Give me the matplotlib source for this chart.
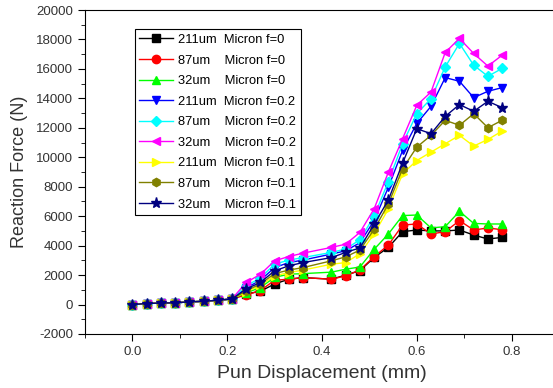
import numpy as np
import matplotlib.pyplot as plt
from matplotlib.ticker import MultipleLocator

# punch displacement (mm) - no sample at 0.39
disp = [0.00, 0.03, 0.06, 0.09, 0.12, 0.15, 0.18, 0.21, 0.24, 0.27, 0.30, 0.33, 0.36,
        0.42, 0.45, 0.48, 0.51, 0.54, 0.57, 0.60, 0.63, 0.66, 0.69, 0.72, 0.75, 0.78]

early = [0, 70, 100, 120, 180, 220, 290, 380]

f211_0 = early + [720, 900, 1400, 1720, 1830, 1720, 2000, 2300, 3200, 3880, 4950, 5060,
                  5000, 5000, 5060, 4720, 4450, 4560]
f87_0 = early + [650, 950, 1650, 1720, 1830, 1720, 1950, 2350, 3250, 4040, 5400, 5470,
                 4790, 4950, 5700, 5060, 5200, 5080]
f32_0 = early + [800, 1150, 1850, 2060, 2100, 2200, 2400, 2550, 3750, 4790, 6040, 6080,
                 5200, 5290, 6330, 5510, 5470, 5470]
f211_02 = early + [1130, 1650, 2510, 2850, 3020, 3430, 3650, 4200, 5700, 7960, 10460, 12300,
                   13460, 15410, 15160, 14050, 14480, 14730]
f87_02 = early + [1270, 1800, 2740, 3020, 3190, 3540, 3770, 4400, 6000, 8350, 10920, 12960,
                  13980, 16140, 17730, 16250, 15500, 16030]
f32_02 = early + [1500, 2050, 2970, 3260, 3490, 3880, 4100, 4900, 6500, 8990, 11260, 13530,
                  14430, 17120, 18070, 17050, 16190, 16930]
f211_01 = early + [860, 1300, 1950, 2170, 2340, 2740, 2850, 3450, 4800, 6490, 8880, 9780,
                   10350, 10920, 11490, 10760, 11210, 11780]
f87_01 = early + [930, 1400, 2100, 2340, 2510, 2970, 3240, 3700, 5100, 6830, 9220, 10690,
                  11490, 12510, 12170, 12960, 12010, 12510]
f32_01 = early + [1060, 1500, 2290, 2630, 2850, 3190, 3540, 3850, 5450, 7100, 9600, 11940,
                  11600, 12780, 13580, 13120, 13800, 13370]

series = [
    ('211um  Micron f=0', f211_0, 'black', 's'),
    ('87um    Micron f=0', f87_0, 'red', 'o'),
    ('32um    Micron f=0', f32_0, '#00ff00', '^'),
    ('211um  Micron f=0.2', f211_02, 'blue', 'v'),
    ('87um    Micron f=0.2', f87_02, 'cyan', 'D'),
    ('32um    Micron f=0.2', f32_02, 'magenta', '<'),
    ('211um  Micron f=0.1', f211_01, 'yellow', '>'),
    ('87um    Micron f=0.1', f87_01, '#808000', 'h'),
    ('32um    Micron f=0.1', f32_01, '#000080', '*'),
]

plt.rcParams['font.family'] = ['Liberation Sans', 'DejaVu Sans']
plt.rcParams['axes.unicode_minus'] = False

fig = plt.figure(figsize=(5.53, 3.88), dpi=100)
# right spine sits just outside the picture, as in the source
ax = fig.add_axes([85 / 553, 1 - 334 / 388, (559 - 85) / 553, 324 / 388])

for label, vals, color, marker in series:
    ms = 8 if marker == '*' else 6
    if marker == 'D':
        ms = 5.5
    ax.plot(disp, vals, color=color, marker=marker, markersize=ms, lw=1,
            label=label)

ax.set_xlim(-0.1, 0.9)
ax.set_ylim(-2000, 20000)
ax.xaxis.set_major_locator(MultipleLocator(0.2))
ax.xaxis.set_minor_locator(MultipleLocator(0.1))
ax.yaxis.set_major_locator(MultipleLocator(2000))
ax.yaxis.set_minor_locator(MultipleLocator(1000))
ax.xaxis.set_major_formatter(plt.FuncFormatter(lambda v, p: '%.1f' % v))
ax.tick_params(which='both', direction='out', top=False, right=False,
               labelsize=9.5, labelcolor='#333333')
ax.tick_params(which='major', length=5)
ax.tick_params(which='minor', length=3)

ax.set_xlabel('Pun Displacement (mm)', fontsize=14, color='#333333', labelpad=5)
ax.set_ylabel('Reaction Force (N)', fontsize=13, color='#333333', labelpad=6)

leg = ax.legend(loc='upper left', bbox_to_anchor=(0.105, 0.94), fontsize=9.3,
                frameon=True, fancybox=False, edgecolor='black', framealpha=1,
                handlelength=2.6, labelspacing=0.66, borderpad=0.35,
                handletextpad=0.4, borderaxespad=0)
leg.get_frame().set_linewidth(0.8)

fig.savefig('out.png', dpi=100)
